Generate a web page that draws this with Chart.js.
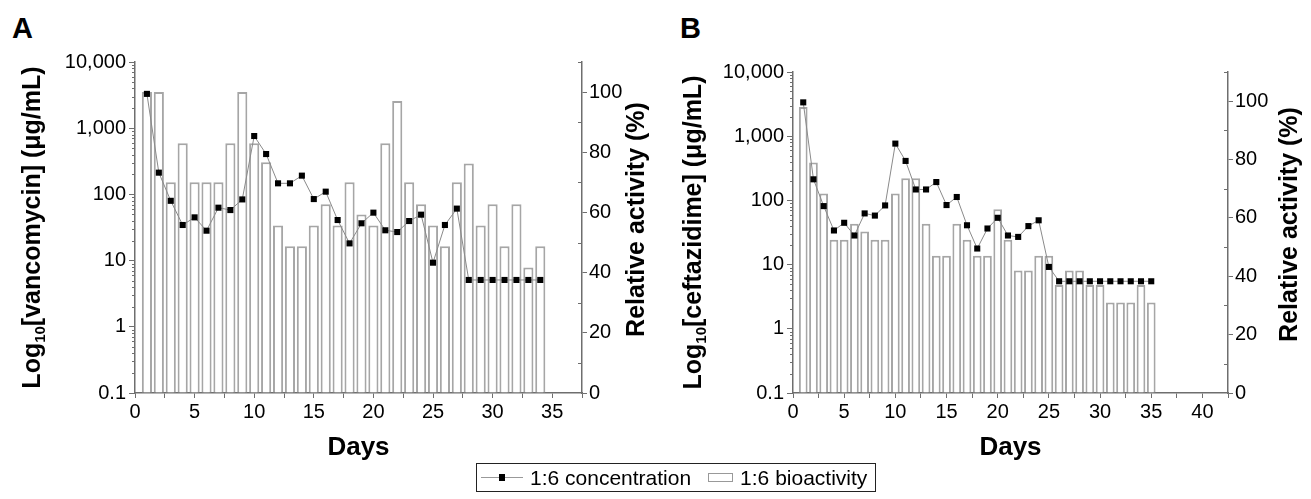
<!DOCTYPE html>
<html>
<head>
<meta charset="utf-8">
<script src="https://cdn.jsdelivr.net/npm/chart.js@4.4.0/dist/chart.umd.min.js"></script>
<style>
  html, body { margin: 0; padding: 0; background: #fff; }
  body { width: 1311px; height: 499px; position: relative; overflow: hidden;
         font-family: "Liberation Sans", Arial, sans-serif; }
  .panel { position: absolute; top: 0; height: 499px; }
  #wrapA { left: 0; width: 655px; }
  #wrapB { left: 655px; width: 656px; }
  .tag { position: absolute; top: 12px; font-weight: bold; font-size: 29px; }
  #legend { position: absolute; left: 476px; top: 463px; height: 29px; box-sizing: border-box;
            border: 1px solid #222; display: flex; align-items: center; padding: 0 8px 0 4px;
            font-size: 21px; white-space: nowrap; }
  .sym-line { position: relative; width: 42px; height: 1px; background: #999; margin-right: 7px; }
  .sym-line::after { content: ''; position: absolute; left: 18px; top: -3px; width: 6px; height: 7px; background: #000; }
  .sym-bar { width: 25px; height: 9px; box-sizing: border-box; border: 1.5px solid #999;
             background: #fff; margin: 0 7px 0 17px; }
</style>
</head>
<body>
<div class="tag" style="left:12px">A</div>
<div class="tag" style="left:680px">B</div>
<div class="panel" id="wrapA"><canvas id="chartA"></canvas></div>
<div class="panel" id="wrapB"><canvas id="chartB"></canvas></div>
<div id="legend"></div>
<script>
// ---- data ----
const seriesLabels = ['1:6 concentration', '1:6 bioactivity'];

const daysA = [1, 2, 3, 4, 5, 6, 7, 8, 9, 10, 11, 12, 13, 14, 15, 16, 17, 18, 19, 20,
  21, 22, 23, 24, 25, 26, 27, 28, 29, 30, 31, 32, 33, 34];
// vancomycin concentration (ug/mL)
const concA = [3300, 213, 80, 34.5, 45, 28.3, 63, 58, 84, 762, 407, 147, 147, 192, 85, 110,
  41, 18.2, 36.6, 53, 28.7, 27, 39.6, 49.4, 9.3, 34.5, 61, 5.1, 5.1, 5.1, 5.1, 5.1, 5.1, 5.1];
// relative activity (%)
const bioA = [100, 100, 70, 83, 70, 70, 70, 83, 100, 83, 76.7, 55.7, 48.8, 48.8, 55.7, 62.7,
  55.7, 70, 59.3, 55.7, 83, 97, 70, 62.7, 55.7, 48.8, 70, 76.3, 55.7, 62.7, 48.8, 62.7, 41.7, 48.8];

const daysB = [1, 2, 3, 4, 5, 6, 7, 8, 9, 10, 11, 12, 13, 14, 15, 16, 17, 18, 19, 20,
  21, 22, 23, 24, 25, 26, 27, 28, 29, 30, 31, 32, 33, 34, 35];
// ceftazidime concentration (ug/mL)
const concB = [3365, 213, 81.5, 34, 44.8, 28.4, 62.7, 58, 83.5, 767, 412, 148, 148, 193, 84.6,
  113, 41, 17.8, 36.5, 53.6, 28.4, 27, 39.8, 49, 9.2, 5.5, 5.5, 5.5, 5.5, 5.5, 5.5, 5.5, 5.5, 5.5, 5.5];
const bioB = [98, 79, 68.4, 52.5, 52.5, 58, 55.3, 52.5, 52.5, 68.4, 73.6, 73.6, 58, 47, 47, 58,
  52.5, 47, 47, 63, 52.5, 42, 42, 47, 47, 37, 42, 42, 37, 37, 31, 31, 31, 37, 31];

const logTickValues = [0.1, 1, 10, 100, 1000, 10000];
const logTickLabels = ['0.1', '1', '10', '100', '1,000', '10,000'];
const activityTicks = [0, 20, 40, 60, 80, 100];
const activityMinor = [10, 30, 50, 70, 90, 110];

const axisColor = '#6e6e6e';
const tickFont = { family: '"Liberation Sans", Arial, sans-serif', size: 20 };

const logMinor = [];
for (const base of [0.1, 1, 10, 100, 1000]) {
  for (let k = 2; k <= 9; k++) logMinor.push(k * base);
}

// minor tick marks on both y axes
const minorTicks = {
  id: 'minorTicks',
  afterDraw(chart) {
    const { ctx, chartArea, scales } = chart;
    ctx.save();
    ctx.strokeStyle = axisColor;
    ctx.lineWidth = 1;
    ctx.beginPath();
    logMinor.forEach((v) => {
      const y = Math.round(scales.y.getPixelForValue(v)) + 0.5;
      ctx.moveTo(chartArea.left - 3, y);
      ctx.lineTo(chartArea.left, y);
    });
    activityMinor.forEach((v) => {
      const y = Math.round(scales.y1.getPixelForValue(v)) + 0.5;
      ctx.moveTo(chartArea.right, y);
      ctx.lineTo(chartArea.right - 4, y);
    });
    ctx.stroke();
    ctx.restore();
  }
};

// rotated axis titles (bottom-to-top on both sides, with subscript)
function drawRotated(ctx, x, y, parts) {
  let total = 0;
  parts.forEach((p) => {
    ctx.font = 'bold ' + p.size + 'px "Liberation Sans", Arial, sans-serif';
    p.w = ctx.measureText(p.text).width;
    total += p.w;
  });
  ctx.save();
  ctx.translate(x, y);
  ctx.rotate(-Math.PI / 2);
  ctx.textBaseline = 'alphabetic';
  ctx.textAlign = 'left';
  let pos = -total / 2;
  parts.forEach((p) => {
    ctx.font = 'bold ' + p.size + 'px "Liberation Sans", Arial, sans-serif';
    ctx.fillText(p.text, pos, 9 + (p.shift || 0));
    pos += p.w;
  });
  ctx.restore();
}

const axisTitles = {
  id: 'axisTitles',
  afterDraw(chart, args, opts) {
    const { ctx, chartArea } = chart;
    const cy = (chartArea.top + chartArea.bottom) / 2;
    ctx.save();
    ctx.fillStyle = '#000';
    drawRotated(ctx, opts.leftX, cy, [
      { text: 'Log', size: 25 },
      { text: '10', size: 15, shift: 5 },
      { text: opts.drug, size: 25 }
    ]);
    drawRotated(ctx, chartArea.right + opts.rightOffset, cy - 8, [
      { text: 'Relative activity (%)', size: 25 }
    ]);
    ctx.restore();
  }
};

function makeChart(id, days, conc, bio, o) {
  return new Chart(document.getElementById(id), {
    type: 'bar',
    data: {
      datasets: [{
        type: 'line',
        label: seriesLabels[0],
        data: days.map((d, i) => ({ x: d, y: conc[i] })),
        yAxisID: 'y',
        borderColor: '#8a8a8a',
        borderWidth: 1,
        tension: 0,
        pointStyle: 'rect',
        pointRadius: 4.3,
        pointBackgroundColor: '#000',
        pointBorderColor: '#000',
        pointBorderWidth: 0,
        order: 0
      }, {
        type: 'bar',
        label: seriesLabels[1],
        data: days.map((d, i) => ({ x: d, y: bio[i] })),
        yAxisID: 'y1',
        backgroundColor: '#fff',
        borderColor: '#a6a6a6',
        borderWidth: 2,
        barPercentage: 0.85,
        categoryPercentage: 1,
        order: 1
      }]
    },
    options: {
      responsive: true,
      maintainAspectRatio: false,
      animation: false,
      layout: { padding: { top: o.top, bottom: 34, left: 0, right: 0 } },
      plugins: {
        legend: { display: false },
        tooltip: { enabled: false },
        axisTitles: { drug: o.drug, leftX: o.titleX, rightOffset: o.rightOffset }
      },
      scales: {
        x: {
          type: 'linear',
          min: 0,
          max: o.xMax,
          offset: false,
          grid: { display: true, drawOnChartArea: false, offset: false, tickLength: 5, color: axisColor },
          border: { color: axisColor, width: 1.5 },
          ticks: {
            stepSize: 2.5,
            autoSkip: false,
            maxRotation: 0,
            includeBounds: false,
            padding: 2,
            color: '#000',
            font: tickFont,
            callback: (v) => (v % 5 === 0 ? String(v) : '')
          },
          title: { display: true, text: 'Days', color: '#000', padding: { top: 0, bottom: 2 },
                   font: { family: tickFont.family, size: 26, weight: 'bold' } },
          afterFit: (s) => { s.height = 72; }
        },
        y: {
          type: 'logarithmic',
          position: 'left',
          min: 0.1,
          max: 10000,
          grid: { display: true, drawOnChartArea: false, tickLength: 6, color: axisColor },
          border: { color: axisColor, width: 1.5 },
          afterBuildTicks: (s) => { s.ticks = logTickValues.map((v) => ({ value: v })); },
          ticks: {
            autoSkip: false,
            padding: 3,
            color: '#000',
            font: tickFont,
            callback: (v, i) => logTickLabels[i]
          },
          afterFit: (s) => { s.width = o.leftW; }
        },
        y1: {
          type: 'linear',
          position: 'right',
          min: 0,
          max: 110,
          grid: { display: true, drawOnChartArea: false, tickLength: 5, color: axisColor },
          border: { color: axisColor, width: 1.5 },
          afterBuildTicks: (s) => { s.ticks = activityTicks.map((v) => ({ value: v })); },
          ticks: { autoSkip: false, padding: 2, color: '#000', font: tickFont },
          afterFit: (s) => { s.width = o.rightW; }
        }
      }
    },
    plugins: [minorTicks, axisTitles]
  });
}

makeChart('chartA', daysA, concA, bioA, {
  top: 62, xMax: 37.5, leftW: 135, rightW: 73, drug: '[vancomycin] (\u03bcg/mL)', titleX: 31, rightOffset: 53
});
makeChart('chartB', daysB, concB, bioB, {
  top: 72, xMax: 42.5, leftW: 138, rightW: 83, drug: '[ceftazidime] (\u03bcg/mL)', titleX: 37, rightOffset: 60
});

// shared legend under both panels
const legend = document.getElementById('legend');
legend.innerHTML =
  '<span class="sym-line"></span><span>' + seriesLabels[0] + '</span>' +
  '<span class="sym-bar"></span><span>' + seriesLabels[1] + '</span>';
</script>
</body>
</html>
